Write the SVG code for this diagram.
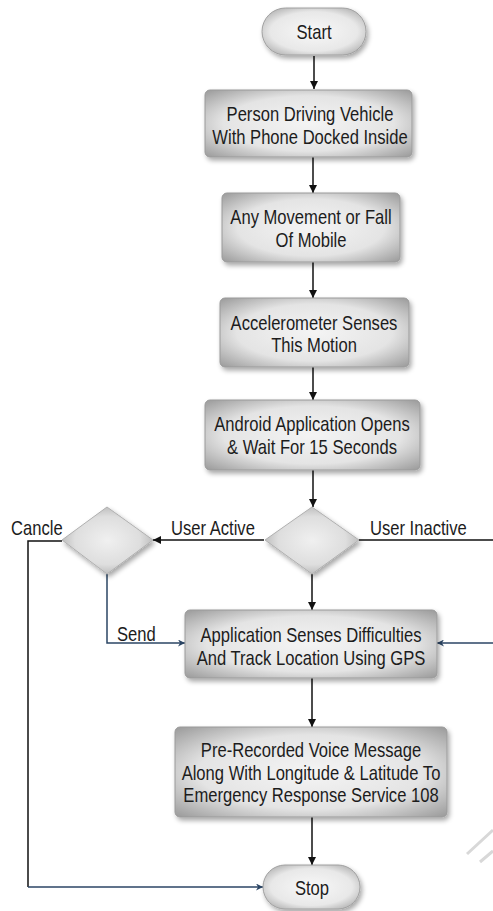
<svg xmlns="http://www.w3.org/2000/svg" width="493" height="911" viewBox="0 0 493 911">
  <defs>
    <radialGradient id="boxFill" cx="0.5" cy="0.5" r="0.75">
      <stop offset="0" stop-color="#f4f4f4"/>
      <stop offset="0.55" stop-color="#e4e4e4"/>
      <stop offset="1" stop-color="#8e8e8e"/>
    </radialGradient>
    <radialGradient id="pillFill" cx="0.5" cy="0.5" r="0.7">
      <stop offset="0" stop-color="#f8f8f8"/>
      <stop offset="0.6" stop-color="#e8e8e8"/>
      <stop offset="1" stop-color="#9a9a9a"/>
    </radialGradient>
    <radialGradient id="diaFill" cx="0.5" cy="0.5" r="0.6">
      <stop offset="0" stop-color="#f0f0f0"/>
      <stop offset="0.6" stop-color="#dedede"/>
      <stop offset="1" stop-color="#a8a8a8"/>
    </radialGradient>
    <filter id="shadow" x="-10%" y="-10%" width="125%" height="135%">
      <feGaussianBlur in="SourceAlpha" stdDeviation="2.5"/>
      <feOffset dx="2" dy="3" result="b"/>
      <feComponentTransfer><feFuncA type="linear" slope="0.35"/></feComponentTransfer>
      <feMerge><feMergeNode/><feMergeNode in="SourceGraphic"/></feMerge>
    </filter>
    <marker id="arrow" viewBox="0 0 10 10" refX="10" refY="5" markerWidth="8" markerHeight="8" markerUnits="userSpaceOnUse" orient="auto">
      <path d="M0,0 L10,5 L0,10 z" fill="#111"/>
    </marker>
    <marker id="arrowBlue" viewBox="0 0 10 10" refX="10" refY="5" markerWidth="9" markerHeight="7" markerUnits="userSpaceOnUse" orient="auto">
      <path d="M0,0 L10,5 L0,10 L3,5 z" fill="#2b4564"/>
    </marker>
    <style>
      .box { fill: url(#boxFill); stroke: #9a9a9a; stroke-width: 1; filter: url(#shadow); }
      .pill { fill: url(#pillFill); stroke: #a0a0a0; stroke-width: 1; filter: url(#shadow); }
      .dia { fill: url(#diaFill); stroke: #b0b0b0; stroke-width: 1; filter: url(#shadow); }
      /* narrow, tall lettering: 20px type squeezed horizontally */
      .lbl { font-family: "Liberation Sans", Arial, sans-serif; font-size: 20px; fill: #1c1c1c; text-anchor: middle; }
      .edge { font-family: "Liberation Sans", Arial, sans-serif; font-size: 20px; fill: #1c1c1c; }
      .conn { fill: none; stroke: #111; stroke-width: 1.5; }
      .connB { fill: none; stroke: #2b4564; stroke-width: 1.5; }
    </style>
  </defs>

  <rect width="493" height="911" fill="#ffffff"/>

  <!-- connectors -->
  <g id="connectors">
    <line class="conn" x1="314" y1="56" x2="314" y2="89" marker-end="url(#arrow)"/>
    <line class="conn" x1="313" y1="157" x2="313" y2="193" marker-end="url(#arrow)"/>
    <line class="conn" x1="313" y1="262" x2="313" y2="298" marker-end="url(#arrow)"/>
    <line class="conn" x1="313" y1="367" x2="313" y2="400" marker-end="url(#arrow)"/>
    <line class="conn" x1="313" y1="470" x2="313" y2="507" marker-end="url(#arrow)"/>
    <line class="conn" x1="312" y1="574" x2="312" y2="610" marker-end="url(#arrow)"/>
    <line class="conn" x1="312" y1="678" x2="312" y2="727" marker-end="url(#arrow)"/>
    <line class="conn" x1="312" y1="817" x2="312" y2="865" marker-end="url(#arrow)"/>
    <!-- User Active -->
    <line class="conn" x1="264" y1="540" x2="153" y2="540" marker-end="url(#arrow)"/>
    <!-- User Inactive loops round to the GPS step -->
    <polyline class="conn" points="359,540 493,540"/>
    <polyline class="connB" points="493,643 437,643" marker-end="url(#arrowBlue)"/>
    <!-- Send -->
    <polyline class="connB" points="107,574 107,643 185,643" marker-end="url(#arrowBlue)"/>
    <!-- Cancle -->
    <polyline class="conn" points="62,541 28,541 28,887"/>
    <polyline class="connB" points="28,887 263,887" marker-end="url(#arrowBlue)"/>
  </g>

  <g id="start">
    <rect class="pill" x="262" y="8" width="104" height="47" rx="23.5"/>
    <text class="lbl" transform="translate(314,39) scale(0.83,1)">Start</text>
  </g>

  <g id="person-driving">
    <rect class="box" x="205" y="90" width="207" height="67" rx="5"/>
    <text class="lbl" transform="translate(310,121) scale(0.83,1)">Person Driving Vehicle</text>
    <text class="lbl" transform="translate(310,143.5) scale(0.83,1)">With Phone Docked Inside</text>
  </g>

  <g id="movement">
    <rect class="box" x="222" y="193" width="178" height="69" rx="5"/>
    <text class="lbl" transform="translate(311,224) scale(0.83,1)">Any Movement or Fall</text>
    <text class="lbl" transform="translate(311,246.5) scale(0.83,1)">Of Mobile</text>
  </g>

  <g id="accelerometer">
    <rect class="box" x="220" y="298" width="189" height="69" rx="5"/>
    <text class="lbl" transform="translate(314,329.5) scale(0.83,1)">Accelerometer Senses</text>
    <text class="lbl" transform="translate(314,352) scale(0.83,1)">This Motion</text>
  </g>

  <g id="app-opens">
    <rect class="box" x="205" y="400" width="215" height="70" rx="5"/>
    <text class="lbl" transform="translate(312,431) scale(0.83,1)">Android Application Opens</text>
    <text class="lbl" transform="translate(312,453.5) scale(0.83,1)">&amp; Wait For 15 Seconds</text>
  </g>

  <g id="decision-inactive">
    <polygon class="dia" points="312,507 359,540 312,574 265,540"/>
  </g>

  <g id="decision-active">
    <polygon class="dia" points="107,507 153,540 107,574 62,540"/>
  </g>

  <g id="edge-labels">
    <text class="edge" transform="translate(171,535) scale(0.83,1)">User Active</text>
    <text class="edge" transform="translate(370,535) scale(0.83,1)">User Inactive</text>
    <text class="edge" transform="translate(11,535) scale(0.83,1)">Cancle</text>
    <text class="edge" transform="translate(117,641) scale(0.83,1)">Send</text>
  </g>

  <g id="senses-difficulties">
    <rect class="box" x="185" y="610" width="252" height="68" rx="5"/>
    <text class="lbl" transform="translate(311,642) scale(0.83,1)">Application Senses Difficulties</text>
    <text class="lbl" transform="translate(311,664.5) scale(0.83,1)">And Track Location Using GPS</text>
  </g>

  <g id="voice-message">
    <rect class="box" x="175" y="727" width="272" height="90" rx="5"/>
    <text class="lbl" transform="translate(311,757) scale(0.83,1)">Pre-Recorded Voice Message</text>
    <text class="lbl" transform="translate(311,779.5) scale(0.83,1)">Along With Longitude &amp; Latitude To</text>
    <text class="lbl" transform="translate(311,802) scale(0.83,1)">Emergency Response Service 108</text>
  </g>

  <g id="stop">
    <rect class="pill" x="263" y="865" width="97" height="44" rx="22"/>
    <text class="lbl" transform="translate(312,895) scale(0.83,1)">Stop</text>
  </g>

  <!-- faint mark in the lower right corner -->
  <path d="M467,854 L493,830 M480,862 L493,851" stroke="#d8d8d8" stroke-width="3" fill="none"/>
</svg>
